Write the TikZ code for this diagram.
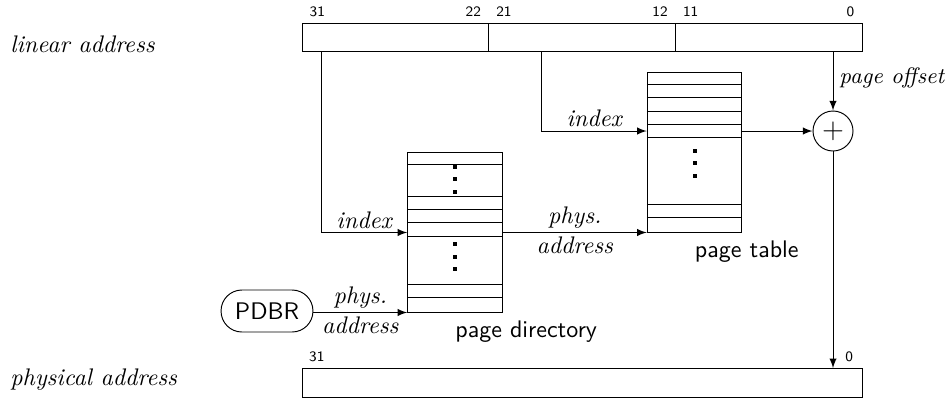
\documentclass[tikz,border=0pt]{standalone}
\usetikzlibrary{arrows}
\usetikzlibrary{calc}
\usetikzlibrary{positioning}

\begin{document}
\begin{tikzpicture}[x=0.4167pt, y=-0.4167pt, >=latex,
	bitfield/.style={draw, rectangle, inner sep=0pt, outer sep=0pt, minimum width=77.78pt, minimum height=12pt},
	addrbar/.style={draw, rectangle, inner sep=0pt, minimum width=233.33pt, minimum height=12pt},
	bitno/.style={inner xsep=3pt, inner ysep=2.5pt, font=\sffamily\fontsize{6}{7}\selectfont},
	lbl/.style={inner sep=1.5pt, font=\itshape},
	tablebox/.style={draw, rectangle, inner sep=0pt, minimum width=39.4pt, minimum height=66.67pt},
	caption/.style={inner xsep=0pt, font=\sffamily},
	]

	\useasboundingbox (0,0) rectangle (949,402);

	%address bars
	\node[bitfield] (seg1) at (395.33,37.5) {};
	\node[bitfield, right=0pt of seg1] (seg2) {};
	\node[bitfield, right=0pt of seg2] (seg3) {};
	\node[addrbar] (physbar) at (582,383) {};
	\node[lbl, inner sep=0pt, anchor=base west] (linlbl) at (10,52) {linear address};
	\node[lbl, inner sep=0pt, anchor=base west] (physlbl) at (10,385) {physical address};

	%bit numbers
	\node[bitno, anchor=south west] (b31) at (seg1.north west) {31};
	\node[bitno, anchor=south east] (b22) at (seg1.north east) {22};
	\node[bitno, anchor=south west] (b21) at (seg2.north west) {21};
	\node[bitno, anchor=south east] (b12) at (seg2.north east) {12};
	\node[bitno, anchor=south west] (b11) at (seg3.north west) {11};
	\node[bitno, anchor=south east] (b0) at (seg3.north east) {0};
	\node[bitno, anchor=south west] (p31) at (physbar.north west) {31};

	%tables
	\node[tablebox] (pdir) at (455,232) {};
	\node[tablebox] (ptab) at (694.5,152) {};
	\foreach \y in {13,45,58,71,85,133,146}
		\draw ($(pdir.north west)+(0,\y)$) -- ($(pdir.north east)+(0,\y)$);
	\foreach \y in {13,26,40,53,66,133,146}
		\draw ($(ptab.north west)+(0,\y)$) -- ($(ptab.north east)+(0,\y)$);
	%dots
	\foreach \y in {15,27,40,92,105,117}
		\fill ($(pdir.north)+(-2,\y-2)$) rectangle +(4,4);
	\foreach \y in {79,91,104}
		\fill ($(ptab.north)+(-2,\y-2)$) rectangle +(4,4);
	\node[caption, anchor=north west] (pdcap) at (pdir.south) {page directory};
	\node[caption, anchor=north west] (ptcap) at (ptab.south) {page table};

	%adder and base register
	\node[draw, circle, minimum size=16.67pt, inner sep=0pt, font=\large] (sum) at (833,131) {$+$};
	\node[draw, rectangle, rounded corners=8.7pt, minimum width=38.3pt, minimum height=17.5pt, font=\sffamily] (pdbr) at (267,311) {PDBR};

	%taps on the linear address
	\coordinate (dirtap) at ($(seg1.south west)+(19,0)$);
	\coordinate (tabtap) at ($(seg2.south west)+(53,0)$);
	\coordinate (offtap) at (sum |- seg3.south);
	\coordinate (pdidx) at (pdir.west |- ptab.south);

	%connectors
	\draw[->] (dirtap) |- node[lbl, above, pos=0.75] (idx1) {index} (pdidx);
	\draw[->] (tabtap) |- node[lbl, above, pos=0.75] (idx2) {index} (ptab.west |- sum);
	\draw[->] (offtap) -- node[lbl, right, xshift=1pt, pos=0.45, font=\itshape\fontsize{9.3}{11}\selectfont] (offlbl) {page offset} (sum);
	\draw[->] (ptab.east |- sum) -- (sum);
	\draw[->] (sum) -- (sum |- physbar.north);
	\node[bitno, anchor=south west, xshift=2pt] (p0) at (sum |- physbar.north) {0};
	\draw[->] (pdir.east |- pdidx) -- node[lbl, above] (pa1) {phys.} node[lbl, below] (pa2) {address} (ptab.south west);
	\draw[->] (pdbr.east |- pdir.south west) -- node[lbl, above] (pa3) {phys.} node[lbl, below] (pa4) {address} (pdir.south west);

\end{tikzpicture}
\end{document}
